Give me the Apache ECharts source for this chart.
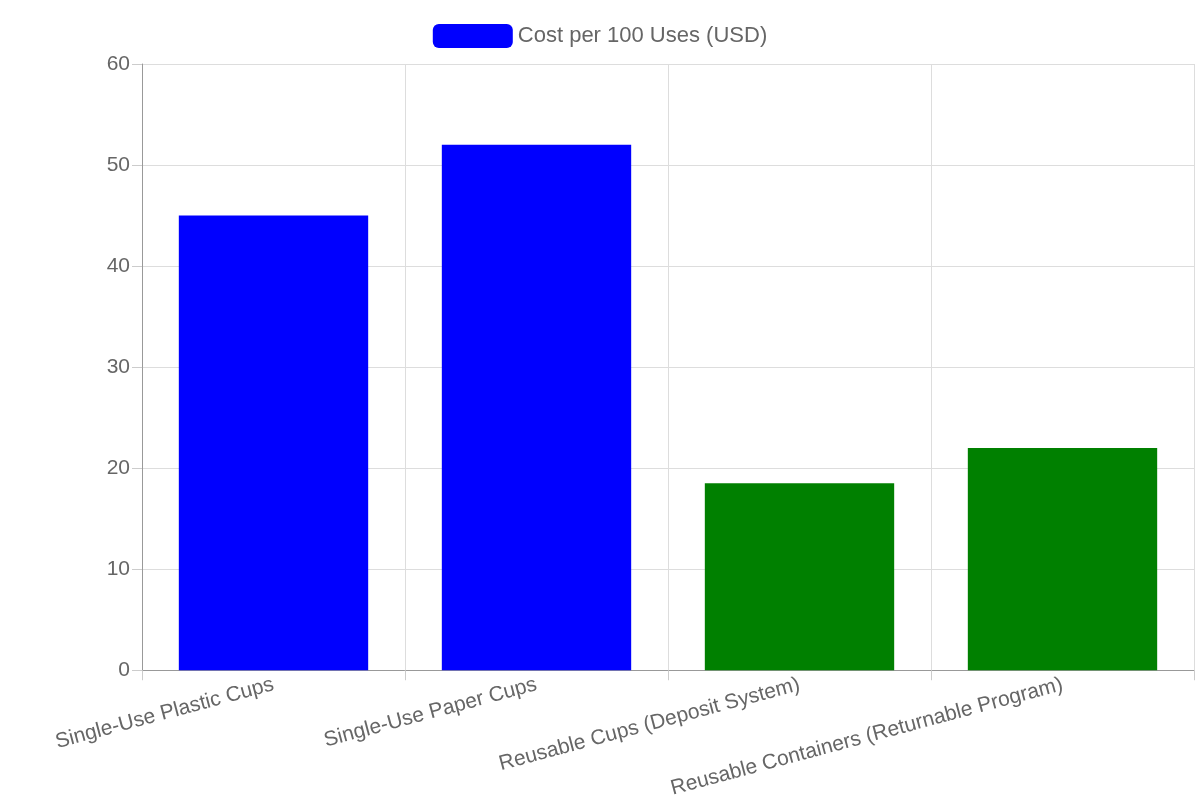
<!DOCTYPE html>
<html>
<head>
<meta charset="utf-8">
<script src="https://cdn.jsdelivr.net/npm/echarts@6/dist/echarts.min.js"></script>
<style>html,body{margin:0;padding:0;background:#fff}#chart{width:1200px;height:800px}</style>
</head>
<body>
<div id="chart"></div>
<script>
var categories = ["Single-Use Plastic Cups", "Single-Use Paper Cups", "Reusable Cups (Deposit System)", "Reusable Containers (Returnable Program)"];
var costValues = [45, 52, 18.5, 22];
var barColors = ["#0000ff", "#0000ff", "#008000", "#008000"];
var yTicks = [0, 10, 20, 30, 40, 50, 60];

var myChart = echarts.init(document.getElementById("chart"));

var option = {
    animation: false,
    textStyle: { fontFamily: "Liberation Sans, Arial, sans-serif" },
    legend: {
        top: 19,
        left: "center",
        itemWidth: 80,
        itemHeight: 24,
        itemGap: 12,
        textStyle: { color: "#666", fontSize: 22 },
        data: [{ name: "Cost per 100 Uses (USD)", itemStyle: { color: "#0000ff" } }]
    },
    grid: { left: 142, right: 6, top: 64, bottom: 128 },
    xAxis: {
        type: "category",
        data: categories,
        axisLine: { lineStyle: { color: "#999" } },
        axisTick: { show: true, length: 10, alignWithLabel: false, lineStyle: { color: "#ccc" } },
        splitLine: { show: true, lineStyle: { color: "#ddd" } },
        axisLabel: { rotate: 15, color: "#666", fontSize: 21, margin: 14, interval: 0 }
    },
    yAxis: {
        type: "value",
        min: yTicks[0],
        max: yTicks[yTicks.length - 1],
        interval: 10,
        axisLine: { show: true, lineStyle: { color: "#999" } },
        axisTick: { show: true, length: 10, lineStyle: { color: "#ccc" } },
        splitLine: { lineStyle: { color: "#ddd" } },
        axisLabel: { color: "#666", fontSize: 21, margin: 12 }
    },
    series: [{
        name: "Cost per 100 Uses (USD)",
        type: "bar",
        barCategoryGap: "28%",
        data: costValues.map(function (v, i) {
            return { value: v, itemStyle: { color: barColors[i] } };
        })
    }]
};

myChart.setOption(option);
</script>
</body>
</html>
